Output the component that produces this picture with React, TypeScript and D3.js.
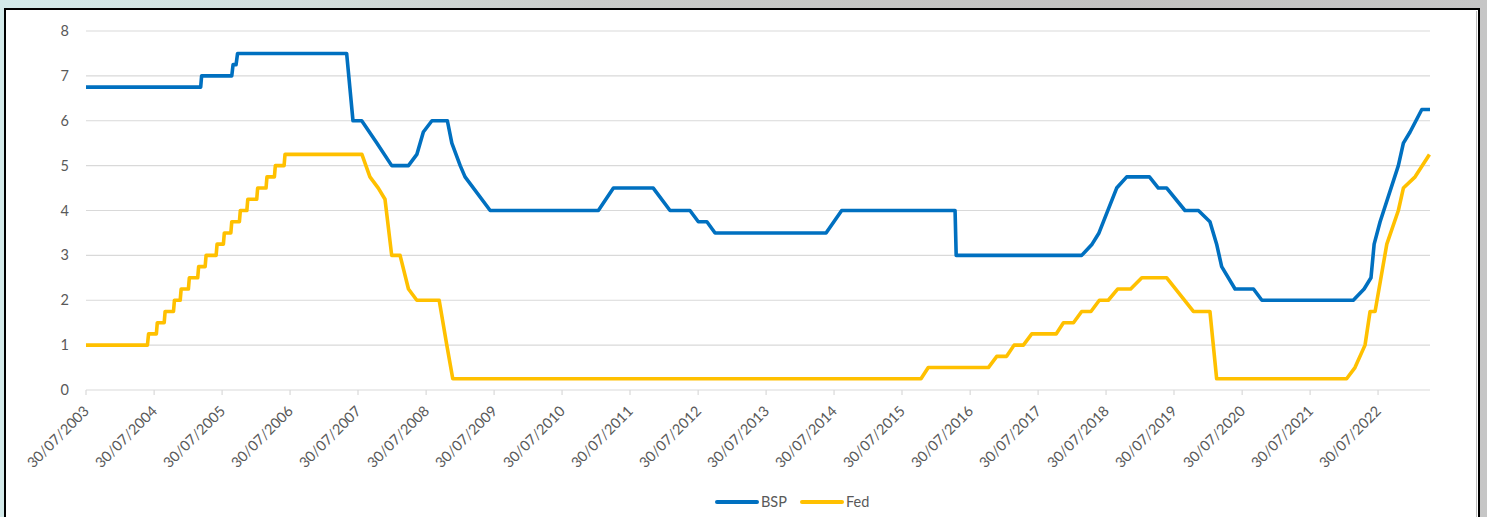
import React from 'react';
import * as d3 from 'd3';

// policy rate vertices (date, rate %)
const bspDates = [
  '2003-07-30', '2005-04-06', '2005-04-11', '2005-09-20', '2005-09-27', '2005-10-13', '2005-10-21',
  '2007-05-30', '2007-07-03', '2007-08-19', '2007-11-09', '2008-01-27', '2008-04-26', '2008-06-10',
  '2008-07-15', '2008-08-30', '2008-11-21', '2008-12-15', '2009-01-29', '2009-02-24', '2009-07-09',
  '2011-02-10', '2011-05-02', '2011-12-02', '2012-03-01', '2012-06-16', '2012-07-31', '2012-09-15',
  '2012-10-29', '2014-06-17', '2014-09-09', '2016-05-10', '2016-05-16', '2018-03-21', '2018-05-16',
  '2018-06-22', '2018-09-25', '2018-11-18', '2019-03-20', '2019-05-07', '2019-06-21', '2019-09-27',
  '2019-12-08', '2020-02-08', '2020-03-15', '2020-04-11', '2020-06-22', '2020-09-29', '2020-11-13',
  '2022-03-19', '2022-05-16', '2022-06-22', '2022-07-09', '2022-08-10', '2022-11-16', '2022-12-13',
  '2023-01-18', '2023-03-22', '2023-05-05',
];
const bspRates = [
  6.75, 6.75, 7.0, 7.0, 7.25, 7.25, 7.5,
  7.5, 6.0, 6.0, 5.5, 5.0, 5.0, 5.25,
  5.75, 6.0, 6.0, 5.5, 5.0, 4.75, 4.0,
  4.0, 4.5, 4.5, 4.0, 4.0, 3.75, 3.75,
  3.5, 3.5, 4.0, 4.0, 3.0, 3.0, 3.25,
  3.5, 4.5, 4.75, 4.75, 4.5, 4.5, 4.0,
  4.0, 3.75, 3.25, 2.75, 2.25, 2.25, 2.0,
  2.0, 2.25, 2.5, 3.25, 3.75, 5.0, 5.5,
  5.75, 6.25, 6.25,
];

const fedDates = [
  '2003-07-30', '2004-06-24', '2004-06-30', '2004-08-11', '2004-08-16', '2004-09-22', '2004-09-27',
  '2004-11-11', '2004-11-16', '2004-12-17', '2004-12-22', '2005-01-30', '2005-02-04', '2005-03-21',
  '2005-03-26', '2005-04-30', '2005-05-05', '2005-06-28', '2005-07-03', '2005-08-06', '2005-08-11',
  '2005-09-15', '2005-09-20', '2005-10-31', '2005-11-05', '2005-12-10', '2005-12-15', '2006-02-01',
  '2006-02-06', '2006-03-23', '2006-03-28', '2006-05-07', '2006-05-12', '2006-06-28', '2006-07-03',
  '2007-08-20', '2007-10-02', '2007-11-16', '2007-12-22', '2008-01-27', '2008-03-12', '2008-04-26',
  '2008-06-10', '2008-10-08', '2008-11-18', '2008-12-20', '2015-11-09', '2015-12-18', '2016-11-05',
  '2016-12-20', '2017-02-11', '2017-03-23', '2017-05-12', '2017-06-26', '2017-11-04', '2017-12-13',
  '2018-02-05', '2018-03-21', '2018-05-10', '2018-06-24', '2018-08-11', '2018-09-30', '2018-12-09',
  '2019-02-07', '2019-06-21', '2019-11-11', '2020-02-08', '2020-03-15', '2022-02-11', '2022-03-28',
  '2022-05-21', '2022-06-17', '2022-07-14', '2022-09-15', '2022-11-16', '2022-12-13', '2023-02-14',
  '2023-05-02',
];
const fedRates = [
  1.0, 1.0, 1.25, 1.25, 1.5, 1.5, 1.75,
  1.75, 2.0, 2.0, 2.25, 2.25, 2.5, 2.5,
  2.75, 2.75, 3.0, 3.0, 3.25, 3.25, 3.5,
  3.5, 3.75, 3.75, 4.0, 4.0, 4.25, 4.25,
  4.5, 4.5, 4.75, 4.75, 5.0, 5.0, 5.25,
  5.25, 4.75, 4.5, 4.25, 3.0, 3.0, 2.25,
  2.0, 2.0, 1.0, 0.25, 0.25, 0.5, 0.5,
  0.75, 0.75, 1.0, 1.0, 1.25, 1.25, 1.5,
  1.5, 1.75, 1.75, 2.0, 2.0, 2.25, 2.25,
  2.5, 2.5, 1.75, 1.75, 0.25, 0.25, 0.5,
  1.0, 1.75, 1.75, 3.25, 4.0, 4.5, 4.75,
  5.25,
];

const tickYears = [
  2003, 2004, 2005, 2006, 2007, 2008, 2009, 2010, 2011, 2012,
  2013, 2014, 2015, 2016, 2017, 2018, 2019, 2020, 2021, 2022,
];
const yTicks = [0, 1, 2, 3, 4, 5, 6, 7, 8];
const seriesNames = ['BSP', 'Fed'];
const seriesColors = ['#0070C0', '#FFC000'];

const W = 1487;
const H = 517;
const FONT = 'Lato, "Open Sans", sans-serif';

const parse = d3.timeParse('%Y-%m-%d');

export default function App() {
  const x = d3
    .scaleTime()
    .domain([parse('2003-07-30')!, parse('2023-05-05')!])
    .range([86, 1430]);
  const y = d3.scaleLinear().domain([0, 8]).range([390, 31]);

  const line = d3
    .line<[Date, number]>()
    .x((d) => x(d[0]))
    .y((d) => y(d[1]));

  const bsp: [Date, number][] = bspDates.map((d, i) => [parse(d)!, bspRates[i]]);
  const fed: [Date, number][] = fedDates.map((d, i) => [parse(d)!, fedRates[i]]);

  return (
    <div style={{ position: 'absolute', left: 0, top: 0 }}>
      <svg width={W} height={H} style={{ display: 'block' }}>
        <defs>
          <linearGradient id="bg" x1="0" x2="1" y1="0" y2="0">
            <stop offset="0" stopColor="#d3eaea" />
            <stop offset="0.2" stopColor="#d2dedc" />
            <stop offset="0.4" stopColor="#c9cbc9" />
            <stop offset="0.75" stopColor="#c2c1c0" />
            <stop offset="1" stopColor="#c6c6c6" />
          </linearGradient>
        </defs>
        <rect x={0} y={0} width={W} height={H} fill="url(#bg)" />
        <rect x={5} y={9} width={1474} height={530} fill="#fff" stroke="#000" strokeWidth={2} />
        <line x1={1476.5} x2={1476.5} y1={11} y2={H} stroke="#bdbdbd" strokeWidth={1} />

        {/* gridlines */}
        {yTicks.map((t) => (
          <line key={t} x1={86} x2={1430} y1={y(t)} y2={y(t)} stroke="#d9d9d9" strokeWidth={1.2} />
        ))}
        {yTicks.map((t) => (
          <text
            key={'l' + t}
            x={69}
            y={y(t)}
            dy="0.35em"
            textAnchor="end"
            fontFamily={FONT}
            fontSize={14.5}
            fill="#595959"
          >
            {t}
          </text>
        ))}

        {/* x axis ticks */}
        {tickYears.map((yr) => {
          const tx = x(parse(`${yr}-07-30`)!);
          return (
            <g key={yr}>
              <line x1={tx} x2={tx} y1={390} y2={395} stroke="#d9d9d9" strokeWidth={1.2} />
              <text
                transform={`translate(${tx + 4},${412}) rotate(-45)`}
                textAnchor="end"
                fontFamily={FONT}
                fontSize={14.5}
                fill="#595959"
              >
                {`30/07/${yr}`}
              </text>
            </g>
          );
        })}

        {/* series */}
        <path d={line(fed)!} fill="none" stroke={seriesColors[1]} strokeWidth={3.6} strokeLinejoin="round" />
        <path d={line(bsp)!} fill="none" stroke={seriesColors[0]} strokeWidth={3.6} strokeLinejoin="round" />

        {/* legend */}
        {seriesNames.map((name, i) => (
          <g key={name} transform={`translate(${717 + i * 85},502)`}>
            <line x1={0} x2={40} y1={0} y2={0} stroke={seriesColors[i]} strokeWidth={4} strokeLinecap="round" />
            <text x={44} y={0} dy="0.35em" fontFamily={FONT} fontSize={14.5} fill="#595959">
              {name}
            </text>
          </g>
        ))}
      </svg>
    </div>
  );
}
